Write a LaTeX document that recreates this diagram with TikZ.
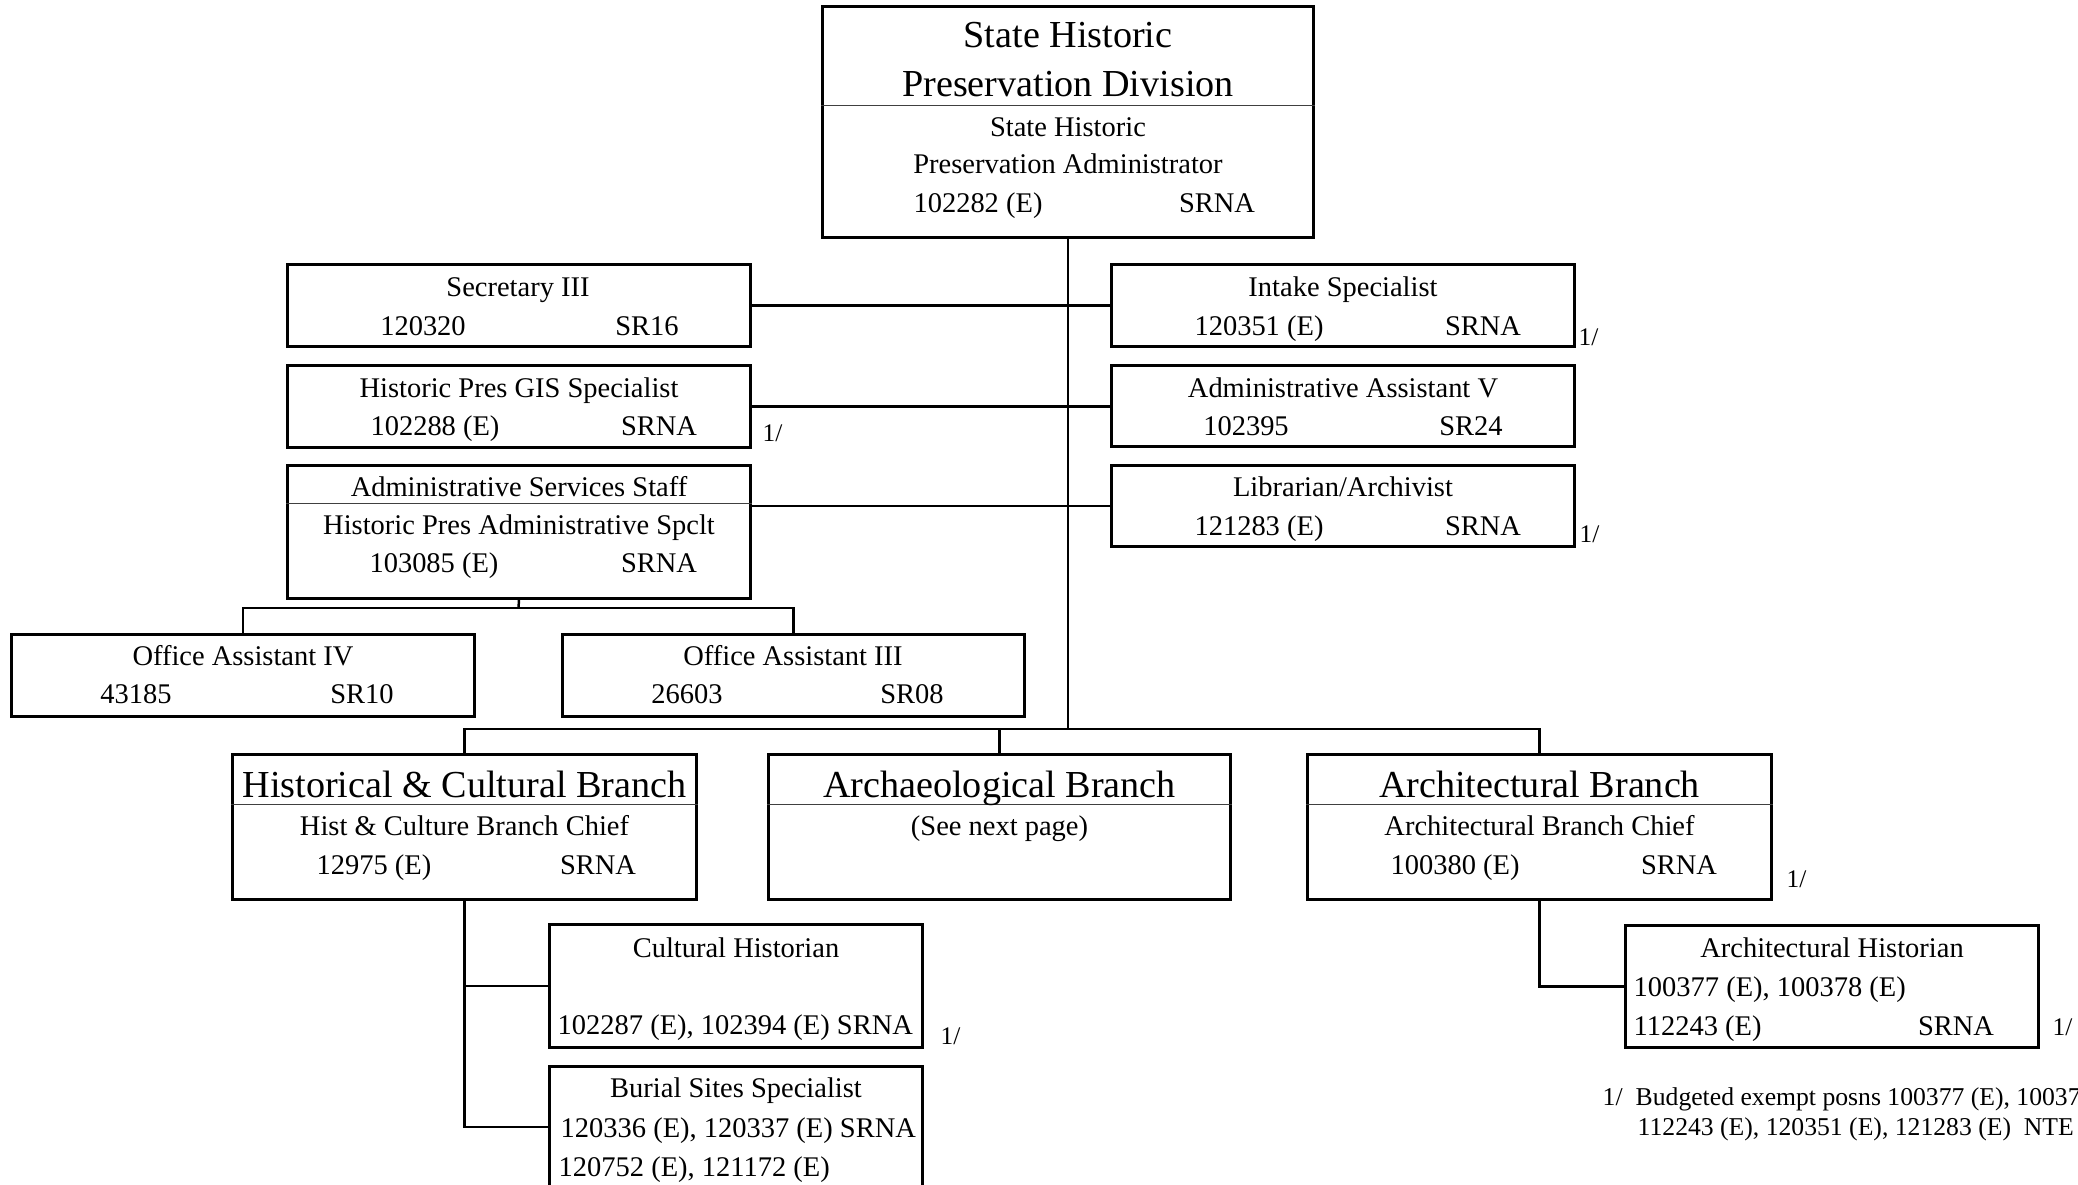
\documentclass[tikz,border=0pt]{standalone}
\usepackage{fontspec}
\setmainfont{Liberation Serif}
\usetikzlibrary{calc}
\begin{document}
\begin{tikzpicture}[x=.01cm, y=-.01cm,
  posbox/.style={draw, line width=.85pt, inner sep=0pt},
  link/.style={line width=.7pt},
  divline/.style={line width=.45pt, black!75},
  hd/.style={inner sep=0pt, anchor=base, font=\fontsize{10.85}{13}\selectfont},
  tx/.style={inner sep=0pt, anchor=base, font=\fontsize{8.1}{9.7}\selectfont},
  txl/.style={tx, anchor=base west},
  fn/.style={inner sep=0pt, anchor=base west, font=\fontsize{7.2}{8.6}\selectfont}]
\useasboundingbox (0,0) rectangle (2078,1184);
% boxes
\node[posbox, minimum width=4.9cm, minimum height=2.3cm] (shpd) at (1068,122) {};
\node[posbox, minimum width=4.62cm, minimum height=.81cm] (secy) at (519,305.5) {};
\node[posbox, minimum width=4.62cm, minimum height=.81cm] (intake) at (1343,305.5) {};
\node[posbox, minimum width=4.62cm, minimum height=.81cm] (gis) at (519,406.5) {};
\node[posbox, minimum width=4.62cm, minimum height=.80cm] (admv) at (1343,406) {};
\node[posbox, minimum width=4.62cm, minimum height=1.32cm] (adm) at (519,532) {};
\node[posbox, minimum width=4.62cm, minimum height=.80cm] (libr) at (1343,506) {};
\node[posbox, minimum width=4.62cm, minimum height=.82cm] (oaiv) at (243,675.5) {};
\node[posbox, minimum width=4.62cm, minimum height=.82cm] (oaiii) at (793.5,675.5) {};
\node[posbox, minimum width=4.63cm, minimum height=1.44cm] (hist) at (464.5,827) {};
\node[posbox, minimum width=4.61cm, minimum height=1.44cm] (arch) at (999.5,827) {};
\node[posbox, minimum width=4.63cm, minimum height=1.44cm] (archt) at (1539.5,827) {};
\node[posbox, minimum width=3.72cm, minimum height=1.22cm] (cult) at (736,986) {};
\node[posbox, minimum width=3.72cm, minimum height=1.2cm] (burial) at (736,1127) {};
\node[posbox, minimum width=4.12cm, minimum height=1.21cm] (archh) at (1832,986.5) {};
% dividers
\draw[divline] ($(shpd.north west)+(0,100)$)--($(shpd.north east)+(0,100)$);
\draw[divline] ($(adm.north west)+(0,39)$)--($(adm.north east)+(0,39)$);
\foreach \b in {hist,arch,archt}
  \draw[divline] ($(\b.north west)+(0,51)$)--($(\b.north east)+(0,51)$);
% connectors
\coordinate (bus) at (1068,729);
\coordinate (admbus) at (518.5,608);
\draw[link] (shpd.south)--(bus);
\draw[link] (secy.east)--(intake.west);
\draw[link] (gis.east)--(gis.east -| admv.west);
\draw[link] (libr.west)--(libr.west -| adm.east);
\draw[link] (adm.south)--(admbus);
\draw[link] (oaiv.north)|-(admbus)-|(oaiii.north);
\draw[link] (hist.north)|-(bus)-|(archt.north);
\draw[link] (arch.north)--(arch.north |- bus);
\draw[link] (hist.south)|-(cult.west);
\draw[link] (hist.south)|-(burial.west);
\draw[link] (archt.south)|-(archh.west);
% texts
\node[hd] at (1068,47) {State Historic};
\node[hd] at (1068,96) {Preservation Division};
\node[tx] at (1068,136) {State Historic};
\node[tx] at (1068,173) {Preservation Administrator};
\node[tx] at (978,212) {102282 (E)};
\node[tx] at (1217,212) {SRNA};
\node[tx] at (518,296) {Secretary III};
\node[tx] at (423,335) {120320};
\node[tx] at (647,335) {SR16};
\node[tx] at (1343,296) {Intake Specialist};
\node[tx] at (1259,335) {120351 (E)};
\node[tx] at (1483,335) {SRNA};
\node[fn] at (1578,345) {1/};
\node[tx] at (519,397) {Historic Pres GIS Specialist};
\node[tx] at (435,435) {102288 (E)};
\node[tx] at (659,435) {SRNA};
\node[fn] at (762,441) {1/};
\node[tx] at (1343,397) {Administrative Assistant V};
\node[tx] at (1246,435) {102395};
\node[tx] at (1471,435) {SR24};
\node[tx] at (519,496) {Administrative Services Staff};
\node[tx] at (519,534) {Historic Pres Administrative Spclt};
\node[tx] at (434,572) {103085 (E)};
\node[tx] at (659,572) {SRNA};
\node[tx] at (1343,496) {Librarian/Archivist};
\node[tx] at (1259,535) {121283 (E)};
\node[tx] at (1483,535) {SRNA};
\node[fn] at (1579,542) {1/};
\node[tx] at (243,665) {Office Assistant IV};
\node[tx] at (136,703) {43185};
\node[tx] at (362,703) {SR10};
\node[tx] at (793,665) {Office Assistant III};
\node[tx] at (687,703) {26603};
\node[tx] at (912,703) {SR08};
\node[hd] at (464.5,797) {Historical \& Cultural Branch};
\node[tx] at (464.5,835) {Hist \& Culture Branch Chief};
\node[tx] at (374,874) {12975 (E)};
\node[tx] at (598,874) {SRNA};
\node[hd] at (999.5,797) {Archaeological Branch};
\node[tx] at (999.5,835) {(See next page)};
\node[hd] at (1539.5,797) {Architectural Branch};
\node[tx] at (1539.5,835) {Architectural Branch Chief};
\node[tx] at (1455,874) {100380 (E)};
\node[tx] at (1679,874) {SRNA};
\node[fn] at (1786,887) {1/};
\node[tx] at (736,957) {Cultural Historian};
\node[txl] at (557,1034) {102287 (E), 102394 (E) SRNA};
\node[fn] at (940,1044) {1/};
\node[tx] at (736,1097) {Burial Sites Specialist};
\node[txl] at (560,1137) {120336 (E), 120337 (E) SRNA};
\node[txl] at (558,1176) {120752 (E), 121172 (E)};
\node[tx] at (1832,957) {Architectural Historian};
\node[txl] at (1633,996) {100377 (E), 100378 (E)};
\node[txl] at (1633,1035) {112243 (E)};
\node[tx] at (1956,1035) {SRNA};
\node[fn] at (2052,1035) {1/};
% footnote
\node[fn, font=\fontsize{7.3}{8.8}\selectfont] at (1602,1105) {1/};
\node[fn, font=\fontsize{7.3}{8.8}\selectfont] at (1635,1105) {Budgeted exempt posns 100377 (E), 100378 (E),};
\node[fn, font=\fontsize{7.3}{8.8}\selectfont] at (1637,1135) {112243 (E), 120351 (E), 121283 (E)\ \ NTE};
\end{tikzpicture}
\end{document}
